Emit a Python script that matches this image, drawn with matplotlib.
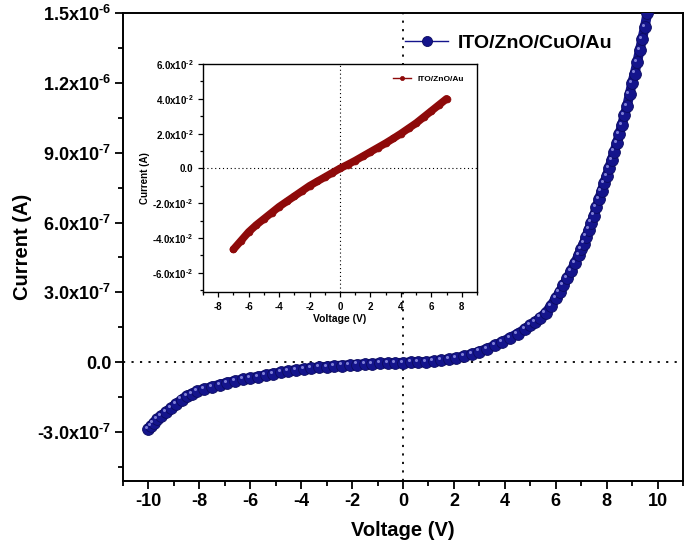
import numpy as np
import matplotlib
matplotlib.use("Agg")
import matplotlib.pyplot as plt
from matplotlib import transforms

plt.rcParams['font.family'] = ['Liberation Sans', 'DejaVu Sans']
plt.rcParams['font.weight'] = 'bold'
plt.rcParams['mathtext.fontset'] = 'custom'
plt.rcParams['mathtext.rm'] = 'Liberation Sans:bold'
plt.rcParams['mathtext.it'] = 'Liberation Sans:bold'
plt.rcParams['mathtext.bf'] = 'Liberation Sans:bold'
plt.rcParams['mathtext.default'] = 'rm'
plt.rcParams['axes.unicode_minus'] = False

# main I-V curve, ITO/ZnO/CuO/Au (current in A)
v_cuo = [-10.0, -9.9, -9.8, -9.65, -9.5, -9.3, -9.1, -8.9, -8.7, -8.5, -8.3, -8.1,
         -7.8, -7.5, -7.2, -6.9, -6.6, -6.3, -6.0, -5.7, -5.4, -5.1, -4.8, -4.5,
         -4.2, -3.9, -3.6, -3.3, -3.0, -2.7, -2.4, -2.1, -1.8, -1.5, -1.2, -0.9,
         -0.6, -0.3, 0.0, 0.3, 0.6, 0.9, 1.2, 1.5, 1.8, 2.1, 2.4, 2.7, 3.0, 3.3,
         3.6, 3.9, 4.2, 4.5, 4.8, 5.0, 5.2, 5.4, 5.6, 5.8, 6.0, 6.15, 6.3, 6.45,
         6.6, 6.75, 6.9, 7.0, 7.1, 7.2, 7.3, 7.4, 7.5, 7.6, 7.7, 7.8, 7.9, 8.0,
         8.1, 8.2, 8.3, 8.4, 8.5, 8.6, 8.7, 8.8, 8.9, 9.0, 9.1, 9.2, 9.3, 9.4,
         9.5, 9.6, 9.7]
i_cuo = [-2.85, -2.72, -2.6, -2.45, -2.3, -2.12, -1.95, -1.78, -1.6, -1.45, -1.35, -1.25,
         -1.15, -1.05, -0.96, -0.88, -0.8, -0.74, -0.68, -0.62, -0.55, -0.49, -0.43, -0.38,
         -0.33, -0.29, -0.25, -0.22, -0.19, -0.16, -0.14, -0.12, -0.1, -0.08, -0.06, -0.05,
         -0.04, -0.03, -0.02, -0.01, 0.0, 0.02, 0.04, 0.08, 0.13, 0.19, 0.26, 0.35, 0.46, 0.58,
         0.72, 0.88, 1.05, 1.23, 1.43, 1.58, 1.74, 1.92, 2.12, 2.4, 2.75, 3.0, 3.3, 3.6,
         3.92, 4.25, 4.6, 4.85, 5.1, 5.4, 5.7, 6.0, 6.3, 6.65, 7.0, 7.35, 7.7, 8.0,
         8.35, 8.7, 9.05, 9.4, 9.8, 10.2, 10.6, 11.0, 11.5, 12.0, 12.4, 12.9, 13.4, 13.9,
         14.4, 15.0, 15.6]
i_cuo = [x * 1e-7 for x in i_cuo]

# inset I-V curve, ITO/ZnO/Au (current in A)
v_zno = [-7.0, -6.5, -6.0, -5.5, -5.0, -4.5, -4.0, -3.5, -3.0, -2.5, -2.0, -1.5, -1.0,
         -0.5, 0.0, 0.5, 1.0, 1.5, 2.0, 2.5, 3.0, 3.5, 4.0, 4.5, 5.0, 5.5, 6.0, 6.5, 7.0]
i_zno = [-4.65, -4.15, -3.65, -3.25, -2.9, -2.55, -2.2, -1.9, -1.6, -1.3, -1.0, -0.75, -0.5,
         -0.25, 0.0, 0.22, 0.45, 0.7, 0.95, 1.2, 1.45, 1.72, 2.0, 2.3, 2.6, 2.95, 3.3, 3.65, 4.0]
i_zno = [x * 1e-2 for x in i_zno]

main_yticks = [-3e-7, 0.0, 3e-7, 6e-7, 9e-7, 1.2e-6, 1.5e-6]
main_ylabels = [r'-3.0x10$^{\text{-}7}$', '0.0', r'3.0x10$^{\text{-}7}$', r'6.0x10$^{\text{-}7}$',
                r'9.0x10$^{\text{-}7}$', r'1.2x10$^{\text{-}6}$', r'1.5x10$^{\text{-}6}$']
main_xticks = [-10, -8, -6, -4, -2, 0, 2, 4, 6, 8, 10]
inset_yticks = [-6e-2, -4e-2, -2e-2, 0.0, 2e-2, 4e-2, 6e-2]
inset_ylabels = [r'-6.0x10$^{\text{-}2}$', r'-4.0x10$^{\text{-}2}$', r'-2.0x10$^{\text{-}2}$', '0.0',
                 r'2.0x10$^{\text{-}2}$', r'4.0x10$^{\text{-}2}$', r'6.0x10$^{\text{-}2}$']
inset_xticks = [-8, -6, -4, -2, 0, 2, 4, 6, 8]

navy = '#14148c'
dred = '#8e0a0a'

fig = plt.figure(figsize=(6.85, 5.47), dpi=100)
ax = fig.add_axes([123 / 685, 1 - 481 / 547, 560 / 685, 468 / 547])

ax.axhline(0, color='black', ls=(0, (1.2, 3.5)), lw=1.3, zorder=1)
ax.axvline(0, color='black', ls=(0, (1.2, 3.5)), lw=1.3, zorder=1)

# thick band underneath so the dense markers read as a continuous curve
ax.plot(v_cuo, i_cuo, color=navy, lw=7, solid_capstyle='round', zorder=2)
ax.plot(v_cuo, i_cuo, color=navy, lw=1, marker='o', ms=8.5, mfc=navy, mec='#0c0c60',
        mew=0.6, zorder=3, label='ITO/ZnO/CuO/Au')
hl = transforms.offset_copy(ax.transData, fig=fig, x=-1.5, y=1.5, units='points')
ax.plot(v_cuo, i_cuo, ls='none', marker='o', ms=2.2, mfc='#7f7fd6', mec='none',
        transform=hl, zorder=4)

ax.set_xlim(-11, 11)
ax.set_ylim(-5.1e-7, 1.5e-6)
ax.set_xticks(main_xticks)
ax.set_xticks(np.arange(-11, 12, 1), minor=True)
ax.set_yticks(main_yticks)
ax.set_yticklabels(main_ylabels)
ax.set_yticks(np.arange(-4.5e-7, 1.51e-6, 1.5e-7), minor=True)
ax.tick_params(which='both', direction='out', top=False, right=False, width=1.3,
               labelsize=13, pad=2.5)
ax.tick_params(which='major', length=6)
ax.tick_params(which='minor', length=3.5)
for s in ax.spines.values():
    s.set_linewidth(1.4)
ax.set_xlabel('Voltage (V)', fontsize=14.5, fontweight='bold', labelpad=8)
ax.set_ylabel('Current (A)', fontsize=14.5, fontweight='bold', labelpad=4)

leg = ax.legend(loc='upper right', bbox_to_anchor=(0.905, 0.992), frameon=False,
                fontsize=14, handlelength=2.2, handletextpad=0.5, markerscale=0.85)

# inset
ins = fig.add_axes([203 / 685, 1 - 292 / 547, 274 / 685, 228 / 547])
ins.set_facecolor('white')
ins.axhline(0, color='black', ls=(0, (1, 2.5)), lw=0.8, zorder=1)
ins.axvline(0, color='black', ls=(0, (1, 2.5)), lw=0.8, zorder=1)
ins.plot(v_zno, i_zno, color=dred, lw=5.5, solid_capstyle='round', zorder=2)
ins.plot(v_zno, i_zno, color=dred, lw=1, marker='o', ms=5, mfc=dred, mec=dred,
         mew=0.5, zorder=3, label='ITO/ZnO/Au')
ins.set_xlim(-9, 9)
ins.set_ylim(-7.1e-2, 6e-2)
ins.set_xticks(inset_xticks)
ins.set_xticks(np.arange(-9, 10, 1), minor=True)
ins.set_yticks(inset_yticks)
ins.set_yticklabels(inset_ylabels)
ins.set_yticks(np.arange(-7e-2, 6.1e-2, 1e-2), minor=True)
ins.tick_params(which='both', direction='out', top=False, right=False, width=0.9,
                labelsize=7)
ins.tick_params(which='major', length=3.5)
ins.tick_params(which='minor', length=2)
for s in ins.spines.values():
    s.set_linewidth(1.0)
ins.set_xlabel('Voltage (V)', fontsize=7.5, fontweight='bold', labelpad=2)
ins.set_ylabel('Current (A)', fontsize=7, fontweight='bold', labelpad=2)
ins.legend(loc='upper right', bbox_to_anchor=(0.98, 0.985), frameon=False, fontsize=6,
           handlelength=2.2, markerscale=0.6)

fig.savefig('out.png', dpi=100)
